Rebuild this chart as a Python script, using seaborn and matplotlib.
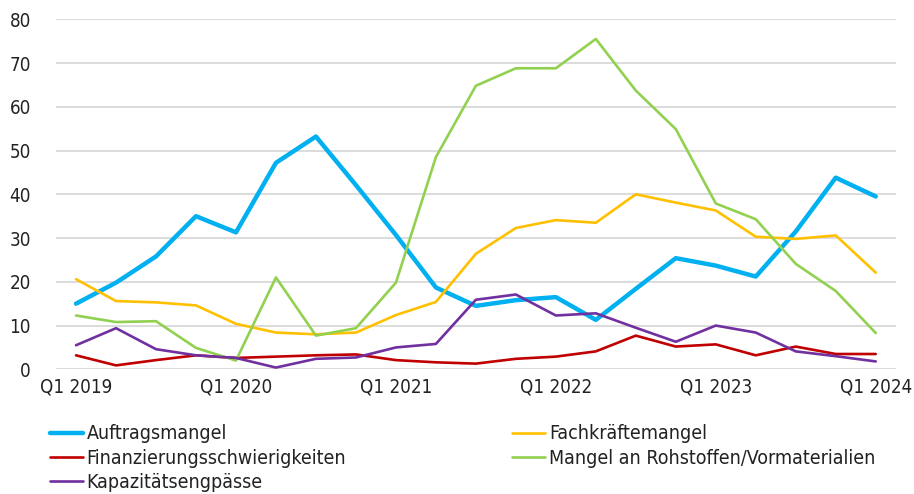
"""Hemmnisse der Produktion, Q1 2019 - Q1 2024."""
import matplotlib
matplotlib.use("Agg")
import matplotlib.pyplot as plt
import seaborn as sns
import pandas as pd

quarters = [f"Q{q} {y}" for y in range(2019, 2025) for q in range(1, 5)][:21]

auftragsmangel = [15.0, 19.8, 25.8, 35.0, 31.3, 47.2, 53.2, 42.1, 30.7, 18.7, 14.5,
                  15.8, 16.5, 11.3, 18.4, 25.4, 23.7, 21.2, 31.5, 43.8, 39.5]
fachkraeftemangel = [20.6, 15.6, 15.3, 14.6, 10.4, 8.4, 8.0, 8.4, 12.4, 15.4, 26.4,
                     32.3, 34.1, 33.5, 40.0, 38.1, 36.3, 30.3, 29.8, 30.6, 22.1]
finanzierung = [3.2, 0.9, 2.1, 3.2, 2.6, 2.9, 3.2, 3.4, 2.1, 1.6, 1.3,
                2.4, 2.9, 4.1, 7.7, 5.2, 5.7, 3.2, 5.2, 3.5, 3.5]
rohstoffe = [12.3, 10.8, 11.0, 4.9, 2.0, 21.0, 7.7, 9.4, 19.8, 48.5, 64.8,
             68.8, 68.8, 75.5, 63.7, 54.9, 37.9, 34.3, 24.1, 17.9, 8.3]
kapazitaet = [5.5, 9.4, 4.6, 3.2, 2.6, 0.4, 2.4, 2.7, 5.0, 5.8, 15.9,
              17.1, 12.3, 12.8, 9.5, 6.3, 10.0, 8.4, 4.1, 3.0, 1.8]

series = {
    "Auftragsmangel": auftragsmangel,
    "Fachkräftemangel": fachkraeftemangel,
    "Finanzierungsschwierigkeiten": finanzierung,
    "Mangel an Rohstoffen/Vormaterialien": rohstoffe,
    "Kapazitätsengpässe": kapazitaet,
}
colors = {
    "Auftragsmangel": "#00B0F0",
    "Fachkräftemangel": "#FFC000",
    "Finanzierungsschwierigkeiten": "#C00000",
    "Mangel an Rohstoffen/Vormaterialien": "#92D050",
    "Kapazitätsengpässe": "#7030A0",
}
widths = {"Auftragsmangel": 3.2}

sns.set_theme(style="white")
plt.rcParams["font.family"] = ["DejaVu Sans"]
plt.rcParams["font.stretch"] = "condensed"

fig = plt.figure(figsize=(9.14, 4.94), dpi=100)
ax = fig.add_axes([0.0613, 0.2524, 0.9187, 0.7086])

idx = list(range(len(quarters)))
for name, values in series.items():
    df = pd.DataFrame({"x": idx, "y": values})
    sns.lineplot(data=df, x="x", y="y", ax=ax, color=colors[name],
                 linewidth=widths.get(name, 1.9), label=name)

ax.set_xlim(-0.5, 20.5)
ax.set_ylim(0, 80)
ax.set_yticks(range(0, 81, 10))
ax.set_xticks(idx[::4])
ax.set_xticklabels(quarters[::4])
ax.set_xlabel("")
ax.set_ylabel("")
ax.grid(axis="y", color="#D9D9D9", linewidth=1.3)
ax.set_axisbelow(True)
for s in ax.spines.values():
    s.set_visible(False)
ax.tick_params(axis="both", length=0, labelsize=13.5, colors="#222222")
ax.tick_params(axis="y", pad=18)
ax.tick_params(axis="x", pad=6)

# legend: column-wise order so that rows match the reference
handles, labels = ax.get_legend_handles_labels()
order = [0, 2, 4, 1, 3]
ax.legend([handles[i] for i in order], [labels[i] for i in order],
          ncol=2, loc="upper left", bbox_to_anchor=(-0.017, -0.135),
          frameon=False, fontsize=14, handlelength=1.7, handletextpad=0.2,
          columnspacing=8.55, labelspacing=0.28, borderaxespad=0,
          labelcolor="#222222")

fig.savefig("out.png", dpi=100)
